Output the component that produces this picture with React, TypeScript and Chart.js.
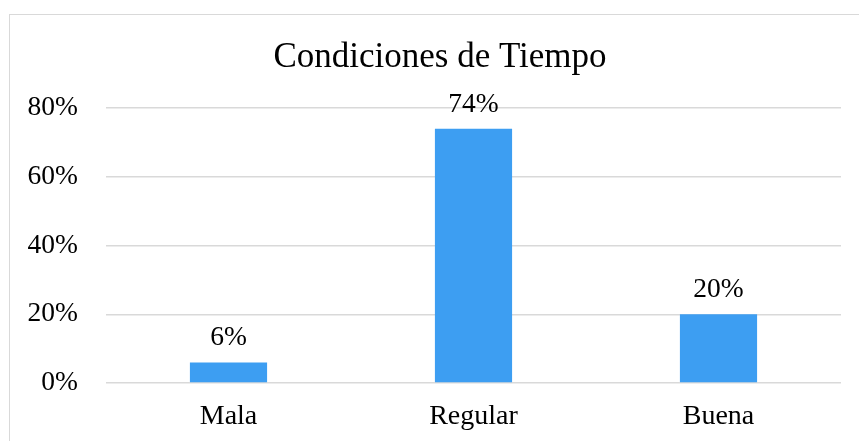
import React, { useEffect, useRef } from "react";
import { Chart, registerables } from "chart.js";

Chart.register(...registerables);

const categories = ["Mala", "Regular", "Buena"];
const values = [0.06, 0.74, 0.2];
const valueLabels = ["6%", "74%", "20%"];
const titleText = "Condiciones de Tiempo";

const FONT = "'Liberation Serif', 'Times New Roman', serif";
const TEXT_COLOR = "#000000";

const barLabelPlugin = {
  id: "barLabels",
  afterDatasetsDraw(chart: any) {
    const ctx = chart.ctx;
    const meta = chart.getDatasetMeta(0);
    ctx.save();
    ctx.font = `27.5px ${FONT}`;
    ctx.fillStyle = TEXT_COLOR;
    ctx.textAlign = "center";
    ctx.textBaseline = "alphabetic";
    meta.data.forEach((bar: any, i: number) => {
      ctx.fillText(valueLabels[i], bar.x, bar.y - 17);
    });
    ctx.restore();
  },
};

// Title centred on the whole chart box (like the original), not on the plot area
const titlePlugin = {
  id: "boxTitle",
  afterDraw(chart: any) {
    const ctx = chart.ctx;
    ctx.save();
    ctx.font = `35px ${FONT}`;
    ctx.fillStyle = TEXT_COLOR;
    ctx.textAlign = "center";
    ctx.textBaseline = "middle";
    ctx.fillText(titleText, 431, 44);
    ctx.restore();
  },
};

export default function App() {
  const ref = useRef<HTMLCanvasElement | null>(null);

  useEffect(() => {
    if (!ref.current) return;
    const chart = new Chart(ref.current, {
      type: "bar",
      data: {
        labels: categories,
        datasets: [
          {
            data: values,
            backgroundColor: "#3d9ef2",
            borderWidth: 0,
            barPercentage: 0.315,
            categoryPercentage: 1,
          },
        ],
      },
      options: {
        responsive: false,
        animation: false,
        layout: { padding: { left: 0, right: 18, top: 94, bottom: 0 } },
        plugins: {
          legend: { display: false },
          tooltip: { enabled: false },
          title: { display: false },
        },
        scales: {
          x: {
            grid: { display: false, drawTicks: false },
            border: { display: false },
            ticks: {
              color: TEXT_COLOR,
              font: { family: FONT, size: 28 },
              padding: 17,
            },
            afterFit(scale: any) {
              scale.height = 58;
            },
          },
          y: {
            min: 0,
            max: 0.8,
            grid: { color: "#d9d9d9", lineWidth: 1.5, drawTicks: false },
            border: { display: false },
            ticks: {
              stepSize: 0.2,
              color: TEXT_COLOR,
              font: { family: FONT, size: 27.5 },
              padding: 28,
              callback: (v: any) => `${Math.round(Number(v) * 100)}%`,
            },
            afterFit(scale: any) {
              scale.width = 97;
            },
          },
        },
      },
      plugins: [barLabelPlugin, titlePlugin],
    });
    return () => chart.destroy();
  }, []);

  return (
    <div
      style={{
        position: "fixed",
        left: 0,
        top: 0,
        width: 859,
        height: 441,
        overflow: "hidden",
        background: "#ffffff",
      }}
    >
      <div
        style={{
          position: "absolute",
          left: 9,
          top: 14,
          width: 860,
          height: 440,
          border: "1.5px solid #d9d9d9",
          boxSizing: "border-box",
        }}
      />
      <canvas
        ref={ref}
        width={850}
        height={427}
        style={{ position: "absolute", left: 9, top: 14, width: 850, height: 427 }}
      />
    </div>
  );
}
